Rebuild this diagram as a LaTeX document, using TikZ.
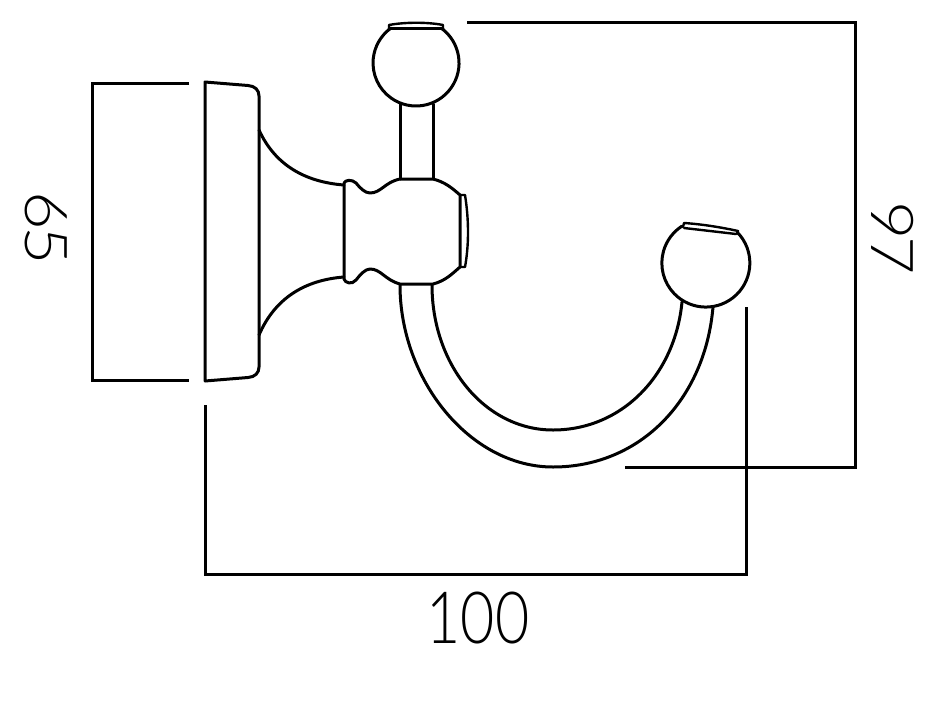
\documentclass[tikz,border=0pt]{standalone}
\usepackage{fontspec}
\setmainfont{Lato}
\newfontfamily\dimfont{Lato Light}
\tikzset{
  obj/.style={line width=3pt,line join=round,line cap=round},
  thin obj/.style={line width=2.4pt,line join=round,line cap=round},
  dimline/.style={line width=3pt,line join=miter},
  dimtext/.style={font=\dimfont\fontsize{72}{72}\selectfont,inner sep=0pt,xscale=0.82}
}
\begin{document}
\begin{tikzpicture}[x=1pt,y=-1pt]
\useasboundingbox (0,0) rectangle (951,702);
% back plate
\draw[obj] (205,381) -- (205,82) -- (248,85.5) .. controls (255,86) and (259,90) .. (259,96) -- (259,367) .. controls (259,373) and (255,377) .. (248,377.5) -- (205,381);
% flare
\draw[obj] (259,130) .. controls (275,165) and (305,182) .. (344,185);
\draw[obj] (259,335) .. controls (275,298) and (305,280) .. (344,277);
% collar and body
\draw[obj] (344,183) -- (344,279) .. controls (345,283) and (352,285) .. (356,280) .. controls (360,275) and (365,269) .. (370,269) .. controls (381,269) and (385,280) .. (400,284) -- (433,284) .. controls (445,281) and (452,274) .. (460,267) -- (460,195) .. controls (452,188) and (445,182) .. (433,179) -- (400,179) .. controls (385,182) and (381,193) .. (370,193) .. controls (365,193) and (360,188) .. (356,183) .. controls (352,179) and (345,180) .. (344,183);
\draw[thin obj] (460,195) -- (465,195) .. controls (469,220) and (469,245) .. (465,267) -- (460,267);
% upper stem and knob
\draw[obj] (400,104) -- (400,179);
\draw[obj] (433,104) -- (433,179);
\draw[obj] (441,28) arc[start angle=-54.5,end angle=234.5,radius=43] ;
\draw[obj] (389,28) -- (443,28);
\draw[thin obj] (389,28) -- (389,25) .. controls (405,22) and (428,22) .. (443,25) -- (443,28);
% hook
\draw[obj] (400,285) .. controls (400,380) and (470,467) .. (553,467) .. controls (640,467) and (705,400) .. (713,307);
\draw[obj] (432,285) .. controls (432,365) and (485,430) .. (553,430) .. controls (622,430) and (675,375) .. (682,302);
% lower knob
\draw[obj] (737.5,232.5) arc[start angle=-44,end angle=237,radius=44];
\draw[thin obj] (683,227) -- (684,223) .. controls (700,224) and (720,227) .. (738,231) -- (737,234);
\draw[thin obj] (684,228) -- (736,234);
% dimensions
\coordinate (a1) at (467,22); \coordinate (a2) at (855,22); \coordinate (a3) at (855,467); \coordinate (a4) at (625,467);
\draw[dimline] (a1) -- (a2) -- (a3) -- (a4);
\coordinate (b1) at (746,307); \coordinate (b2) at (746,574); \coordinate (b3) at (205,574); \coordinate (b4) at (205,405);
\draw[dimline] (b1) -- (b2) -- (b3) -- (b4);
\coordinate (c1) at (189,83); \coordinate (c2) at (92,83); \coordinate (c3) at (92,380); \coordinate (c4) at (189,380);
\draw[dimline] (c1) -- (c2) -- (c3) -- (c4);
\node[dimtext] (t100) at (478,618) {100};
\node[dimtext,rotate=-90,xscale=0.92] (t65) at (46,228) {6\kern-.05em 5};
\node[dimtext,rotate=-90,xscale=0.92] (t97) at (893,238) {9\kern-.05em 7};
\end{tikzpicture}
\end{document}
